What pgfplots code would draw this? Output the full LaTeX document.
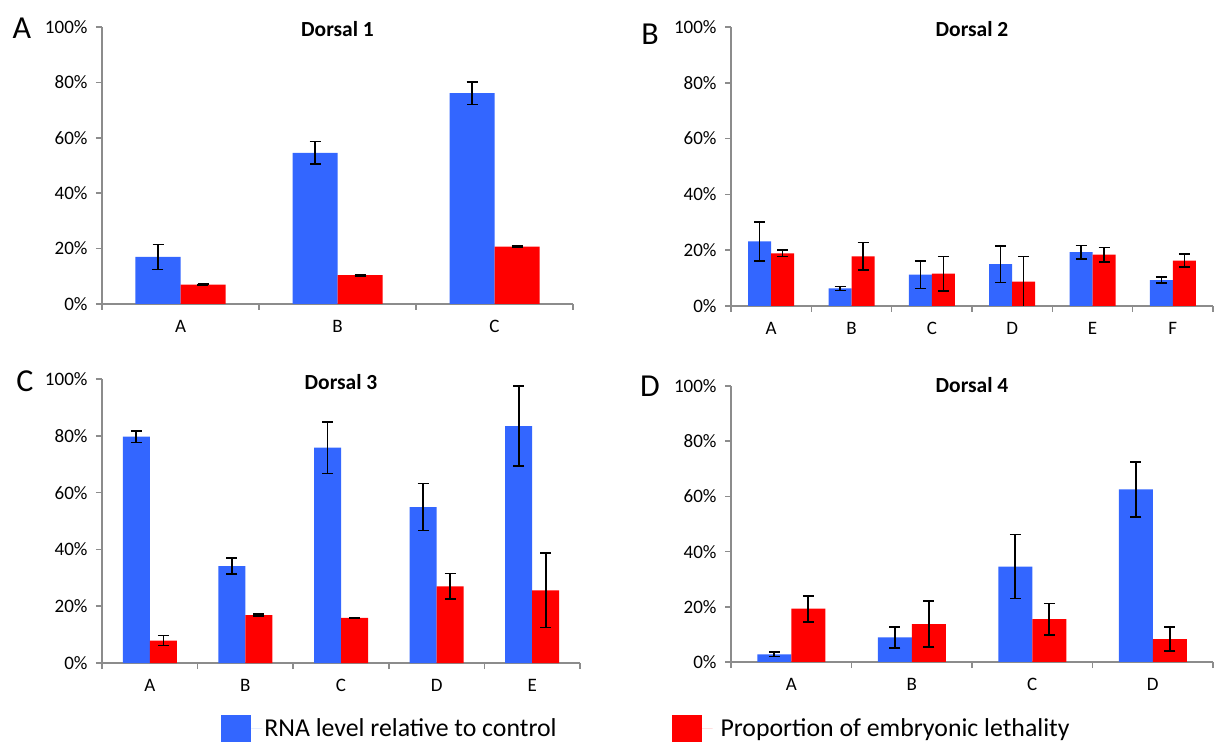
\documentclass[border=0pt]{standalone}
\usepackage{fontspec}
\setmainfont{Carlito}
\usepackage{pgfplots}
\pgfplotsset{compat=1.18}
\definecolor{barblue}{RGB}{51,102,255}
\definecolor{barred}{RGB}{255,0,0}
\definecolor{axgray}{RGB}{140,140,140}
\pgfplotsset{
  panel/.style={
    scale only axis,
    anchor=south west,
    ymin=0, ymax=100,
    ytick={0,20,40,60,80,100},
    yticklabels={0\%,20\%,40\%,60\%,80\%,100\%},
    axis x line*=bottom, axis y line*=left,
    axis line style={draw=axgray, line width=1.5pt},
    every outer x axis line/.append style={-},
    every outer y axis line/.append style={-},
    tick align=outside,
    major tick length=6pt,
    minor tick length=6pt,
    major x tick style={draw=none},
    major y tick style={draw=axgray, line width=1.5pt},
    minor x tick style={draw=axgray, line width=1.5pt},
    tick label style={font=\fontsize{19}{22}\selectfont, text=black},
    /pgf/number format/assume math mode=true,
    xticklabel style={yshift=-7pt},
    yticklabel style={xshift=-5pt},
    title style={font=\fontsize{21.5}{25}\selectfont\bfseries, at={(0.5,1)}, anchor=center, yshift=-8pt},
    ybar=0pt,
  },
  ebar/.style={
    error bars/y dir=both, error bars/y explicit,
    error bars/error bar style={black, line width=1.6pt},
    error bars/error mark options={black, line width=1.6pt, mark size=5.5pt, rotate=90}},
  bluebar/.style={fill=barblue, draw=none, ebar},
  redbar/.style={fill=barred, draw=none, ebar},
}
\begin{document}
\begin{tikzpicture}
\path[use as bounding box] (0pt,0pt) rectangle (1216pt,742pt);
% Panel A
\begin{axis}[panel, at={(102pt,438pt)}, width=471pt, height=277pt,
  xmin=-0.5, xmax=2.5, xtick={0,1,2}, xticklabels={A,B,C},
  minor xtick={-0.5,0.5,1.5,2.5}, bar width=45pt, title={Dorsal 1}]
\addplot[bluebar] coordinates {(0,17.0) +- (0,4.5) (1,54.6) +- (0,4.0) (2,76.1) +- (0,4.1)};
\addplot[redbar] coordinates {(0,7.0) +- (0,0.25) (1,10.4) +- (0,0.2) (2,20.7) +- (0,0.2)};
\end{axis}
% Panel B
\begin{axis}[panel, at={(731pt,436pt)}, width=482pt, height=279pt,
  xmin=-0.5, xmax=5.5, xtick={0,1,2,3,4,5}, xticklabels={A,B,C,D,E,F},
  minor xtick={-0.5,0.5,1.5,2.5,3.5,4.5,5.5}, bar width=23pt, title={Dorsal 2},
  title style={yshift=-0.5pt}]
\addplot[bluebar] coordinates {(0,23.2) +- (0,7.0) (1,6.3) +- (0,0.7) (2,11.2) +- (0,4.9) (3,15.0) +- (0,6.6) (4,19.3) +- (0,2.4) (5,9.3) +- (0,1.1)};
\addplot[redbar] coordinates {(0,18.9) +- (0,1.1) (1,17.8) +- (0,5.0) (2,11.6) +- (0,6.2) (3,8.7) +- (0,9.1) (4,18.4) +- (0,2.6) (5,16.3) +- (0,2.4)};
\end{axis}
% Panel C
\begin{axis}[panel, at={(102pt,79pt)}, width=478pt, height=284pt,
  xmin=-0.5, xmax=4.5, xtick={0,1,2,3,4}, xticklabels={A,B,C,D,E},
  minor xtick={-0.5,0.5,1.5,2.5,3.5,4.5}, bar width=27pt, title={Dorsal 3},
  title style={yshift=-1pt},
  legend style={at={(0.243,-0.229)}, anchor=west, draw=none, fill=none,
    legend columns=2, font=\fontsize{25.8}{29}\selectfont,
    /tikz/every even column/.append style={column sep=113pt}},
  legend image code/.code={\fill[#1] (0pt,-13.5pt) rectangle (30pt,13.5pt); \path (30pt,0pt) -- (41pt,0pt);}]
\addplot[bluebar] coordinates {(0,79.7) +- (0,2.0) (1,34.1) +- (0,2.8) (2,75.8) +- (0,9.1) (3,54.9) +- (0,8.3) (4,83.4) +- (0,14.1)};
\addlegendentry{RNA level relative to control}
\addplot[redbar] coordinates {(0,7.9) +- (0,1.8) (1,16.9) +- (0,0.3) (2,15.9) +- (0,0.15) (3,27.0) +- (0,4.5) (4,25.6) +- (0,13.1)};
\addlegendentry{\hspace{6pt}Proportion of embryonic lethality}
\end{axis}
% Panel D
\begin{axis}[panel, at={(731pt,80pt)}, width=482pt, height=276pt,
  xmin=-0.5, xmax=3.5, xtick={0,1,2,3}, xticklabels={A,B,C,D},
  minor xtick={-0.5,0.5,1.5,2.5,3.5}, bar width=34pt, title={Dorsal 4},
  title style={yshift=2.5pt}]
\addplot[bluebar] coordinates {(0,2.8) +- (0,0.85) (1,8.9) +- (0,3.8) (2,34.6) +- (0,11.6) (3,62.5) +- (0,10.0)};
\addplot[redbar] coordinates {(0,19.3) +- (0,4.7) (1,13.7) +- (0,8.3) (2,15.5) +- (0,5.7) (3,8.3) +- (0,4.4)};
\end{axis}
% panel letters
\node[font=\fontsize{32}{35}\selectfont] at (22pt,714pt) {A};
\node[font=\fontsize{32}{35}\selectfont] at (650pt,708pt) {B};
\node[font=\fontsize{32}{35}\selectfont] at (25pt,361pt) {C};
\node[font=\fontsize{32}{35}\selectfont] at (650pt,356pt) {D};
\end{tikzpicture}
\end{document}
